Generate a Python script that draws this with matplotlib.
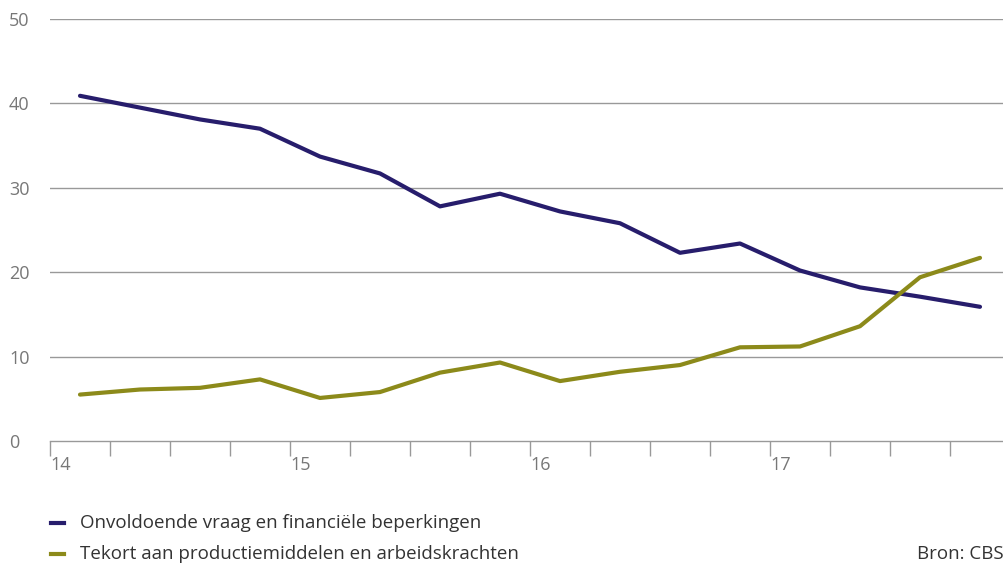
import numpy as np
import matplotlib.pyplot as plt
from matplotlib.lines import Line2D

plt.rcParams['font.family'] = ['Open Sans', 'DejaVu Sans']

# quarterly values, 2014 Q1 - 2017 Q4
quarters = ['14 Q1', '14 Q2', '14 Q3', '14 Q4', '15 Q1', '15 Q2', '15 Q3', '15 Q4',
            '16 Q1', '16 Q2', '16 Q3', '16 Q4', '17 Q1', '17 Q2', '17 Q3', '17 Q4']
vraag = [40.9, 39.5, 38.1, 37.0, 33.7, 31.7, 27.8, 29.3,
         27.2, 25.8, 22.3, 23.4, 20.2, 18.2, 17.1, 15.9]
tekort = [5.5, 6.1, 6.3, 7.3, 5.1, 5.8, 8.1, 9.3,
          7.1, 8.2, 9.0, 11.1, 11.2, 13.6, 19.4, 21.7]
year_labels = ['14', '15', '16', '17']
series_names = ['Onvoldoende vraag en financiële beperkingen',
                'Tekort aan productiemiddelen en arbeidskrachten']

navy = '#271d6c'
olive = '#8c8a1a'
grey = '#999999'
text_grey = '#777777'
dark = '#333333'

W, H = 1004, 564
fig = plt.figure(figsize=(W/100, H/100), dpi=100)
ax = fig.add_axes([50/W, 123/H, 954/W, 422/H])

x = np.arange(len(quarters)) + 0.5
ax.plot(x, vraag, color=navy, lw=3, solid_capstyle='round')
ax.plot(x, tekort, color=olive, lw=3, solid_capstyle='round')

ax.set_xlim(0, 954/60)
ax.set_ylim(0, 50)

for s in ['top', 'right', 'left']:
    ax.spines[s].set_visible(False)
ax.spines['bottom'].set_color(grey)
ax.spines['bottom'].set_linewidth(1)

ax.set_yticks(range(0, 51, 10))
ax.tick_params(axis='y', length=0, labelsize=13, labelcolor=text_grey, pad=0)
for lab in ax.get_yticklabels():
    lab.set_horizontalalignment('left')
    lab.set_x(-41/954)
for yv in range(10, 51, 10):
    ax.axhline(yv, color=grey, lw=1, zorder=0)

ax.set_xticks(np.arange(0, 16, 1))
ax.set_xticklabels([])
ax.tick_params(axis='x', length=11, width=1, color=grey)
for i, lab in enumerate(year_labels):
    fig.text((50 + i*240)/W, 1 - 465/H, lab, ha='left', va='center',
             fontsize=13, color=text_grey)

# legend
for j, (name, col) in enumerate(zip(series_names, [navy, olive])):
    yy = 1 - (523 + 31*j)/H
    fig.add_artist(Line2D([51/W, 64/W], [yy, yy], color=col, lw=3,
                          transform=fig.transFigure))
    fig.text(80/W, yy, name, ha='left', va='center', fontsize=13.5, color=dark)
fig.text(1.0, 1 - 554/H, 'Bron: CBS', ha='right', va='center', fontsize=13.5, color=dark)

plt.savefig('out.png', dpi=100)
